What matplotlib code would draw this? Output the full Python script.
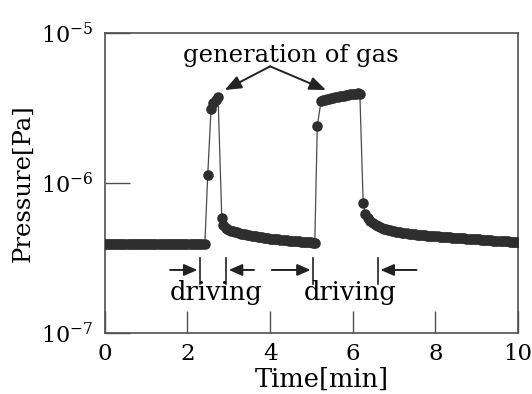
import matplotlib
matplotlib.use("Agg")
import matplotlib.pyplot as plt
from matplotlib.ticker import NullLocator

plt.rcParams['font.family'] = ['DejaVu Serif']
plt.rcParams['mathtext.fontset'] = 'dejavuserif'

# Chamber pressure (in units of 1e-7 Pa) recorded while the actuator is driven twice.
# Segment 1: quiet baseline before the first drive
base_t = [0.00, 0.05, 0.10, 0.15, 0.20, 0.25, 0.30, 0.35, 0.40, 0.45,
          0.50, 0.55, 0.60, 0.65, 0.70, 0.75, 0.80, 0.85, 0.90, 0.95,
          1.00, 1.05, 1.10, 1.15, 1.20, 1.25, 1.30, 1.35, 1.40, 1.45,
          1.50, 1.55, 1.60, 1.65, 1.70, 1.75, 1.80, 1.85, 1.90, 1.95,
          2.00, 2.05, 2.10, 2.15, 2.20, 2.25, 2.30, 2.35, 2.42]
base_p = [3.9, 3.9, 3.9, 3.9, 3.9, 3.9, 3.9, 3.9, 3.9, 3.9,
          3.9, 3.9, 3.9, 3.9, 3.9, 3.9, 3.9, 3.9, 3.9, 3.9,
          3.9, 3.9, 3.9, 3.9, 3.9, 3.9, 3.9, 3.9, 3.9, 3.9,
          3.9, 3.9, 3.9, 3.9, 3.9, 3.9, 3.9, 3.9, 3.9, 3.9,
          3.9, 3.9, 3.9, 3.9, 3.9, 3.9, 3.9, 3.9, 3.9]

# Segment 2: first gas burst
burst1_t = [2.49, 2.57, 2.62, 2.68, 2.74]
burst1_p = [11.3, 31.0, 34.0, 36.0, 37.5]

# Segment 3: recovery after the first burst
decay1_t = [2.83, 2.86, 2.92, 2.96, 3.00, 3.05, 3.10, 3.15, 3.20, 3.25,
            3.30, 3.35, 3.40, 3.45, 3.50, 3.55, 3.60, 3.65, 3.70, 3.75,
            3.80, 3.85, 3.90, 3.95, 4.00, 4.05, 4.10, 4.15, 4.20, 4.25,
            4.30, 4.35, 4.40, 4.45, 4.50, 4.55, 4.60, 4.65, 4.70, 4.75,
            4.80, 4.85, 4.90, 4.95, 5.00, 5.04, 5.08]
decay1_p = [5.85, 5.25, 5.00, 4.94, 4.88, 4.82, 4.77, 4.72, 4.68, 4.64,
            4.60, 4.57, 4.54, 4.51, 4.48, 4.45, 4.43, 4.40, 4.38, 4.36,
            4.34, 4.32, 4.30, 4.28, 4.26, 4.24, 4.23, 4.21, 4.20, 4.18,
            4.17, 4.16, 4.15, 4.13, 4.12, 4.11, 4.10, 4.09, 4.08, 4.07,
            4.06, 4.05, 4.04, 4.03, 4.02, 4.01, 4.00]

# Segment 4: second gas burst (plateau)
burst2_t = [5.14, 5.23, 5.28, 5.33, 5.38, 5.43, 5.48, 5.53, 5.58, 5.63,
            5.68, 5.73, 5.78, 5.83, 5.88, 5.93, 5.98, 6.03, 6.08, 6.13, 6.17]
burst2_p = [24.0, 35.0, 35.6, 36.0, 36.3, 36.6, 36.8, 37.0, 37.3, 37.5,
            37.8, 38.0, 38.3, 38.5, 38.8, 39.0, 39.2, 39.3, 39.5, 39.6, 39.5]

# Segment 5: recovery after the second burst
decay2_t = [6.25, 6.30, 6.36, 6.42, 6.50, 6.55, 6.60, 6.65, 6.70, 6.75,
            6.80, 6.85, 6.90, 6.95, 7.00, 7.05, 7.10, 7.15, 7.20, 7.25,
            7.30, 7.35, 7.40, 7.45, 7.50, 7.55, 7.60, 7.65, 7.70, 7.75,
            7.80, 7.85, 7.90, 7.95, 8.00, 8.05, 8.10, 8.15, 8.20, 8.25,
            8.30, 8.35, 8.40, 8.45, 8.50, 8.55, 8.60, 8.65, 8.70, 8.75,
            8.80, 8.85, 8.90, 8.95, 9.00, 9.05, 9.10, 9.15, 9.20, 9.25,
            9.30, 9.35, 9.40, 9.45, 9.50, 9.55, 9.60, 9.65, 9.70, 9.75,
            9.80, 9.85, 9.90, 9.95, 10.00]
decay2_p = [7.40, 6.20, 5.80, 5.55, 5.40, 5.28, 5.18, 5.10, 5.03, 4.97,
            4.92, 4.88, 4.84, 4.80, 4.77, 4.74, 4.71, 4.68, 4.66, 4.64,
            4.62, 4.60, 4.58, 4.56, 4.54, 4.53, 4.51, 4.50, 4.48, 4.47,
            4.45, 4.44, 4.43, 4.42, 4.41, 4.40, 4.39, 4.38, 4.37, 4.36,
            4.35, 4.34, 4.33, 4.32, 4.31, 4.30, 4.29, 4.28, 4.27, 4.26,
            4.25, 4.24, 4.23, 4.22, 4.21, 4.20, 4.19, 4.18, 4.17, 4.16,
            4.15, 4.14, 4.13, 4.12, 4.11, 4.10, 4.10, 4.09, 4.08, 4.08,
            4.07, 4.07, 4.06, 4.06, 4.05]

x_ticks = [0, 2, 4, 6, 8, 10]
y_ticks = [1e-7, 1e-6, 1e-5]
y_tick_labels = [r'$10^{-7}$', r'$10^{-6}$', r'$10^{-5}$']

# driving intervals (start, end) in minutes
drive_1 = (2.30, 2.94)
drive_2 = (5.04, 6.61)

time_min = base_t + burst1_t + decay1_t + burst2_t + decay2_t
pressure_pa = [v * 1e-7 for v in base_p + burst1_p + decay1_p + burst2_p + decay2_p]

fig = plt.figure(figsize=(5.32, 3.94), dpi=100)
ax = fig.add_axes([0.197, 0.155, 0.777, 0.761])

ink = '#2e2e2e'
ax.plot(time_min, pressure_pa, '-', color='#4a4a4a', lw=0.9,
        marker='o', ms=7.6, mfc=ink, mec=ink, mew=0, zorder=3)

ax.set_yscale('log')
ax.set_xlim(0, 10)
ax.set_ylim(1e-7, 1e-5)
ax.set_xticks(x_ticks)
ax.set_xticklabels([str(v) for v in x_ticks])
ax.set_yticks(y_ticks)
ax.set_yticklabels(y_tick_labels)
ax.yaxis.set_minor_locator(NullLocator())

spine_c = '#505050'
for s in ax.spines.values():
    s.set_color(spine_c)
    s.set_linewidth(1.2)
ax.tick_params(axis='x', direction='in', length=16, width=1.0, color=spine_c,
               labelsize=16.5, pad=7)
ax.tick_params(axis='y', direction='in', length=18, width=1.0, color=spine_c,
               labelsize=16, pad=8)

ax.set_xlabel('Time[min]', fontsize=18.5)
ax.xaxis.set_label_coords(0.525, -0.112)
ax.set_ylabel('Pressure[Pa]', fontsize=17.5, labelpad=5)

# gas generation callout
ax.text(4.5, 7.1e-6, 'generation of gas', fontsize=17.5, ha='center', va='center')
for tip in [(2.9, 4.17e-6), (5.35, 4.17e-6)]:
    ax.annotate('', xy=tip, xytext=(4.0, 6.0e-6),
                arrowprops=dict(arrowstyle='-|>,head_length=1.0,head_width=0.4',
                                color='#222222', lw=1.4, shrinkA=0, shrinkB=0))

# driving interval markers
trans = ax.get_xaxis_transform()
arrow_kw = dict(arrowstyle='-|>,head_length=0.8,head_width=0.35',
                color='#222222', lw=1.4, shrinkA=0, shrinkB=0)
for (t0, t1), lead, label_x in [(drive_1, 0.72, 2.69), (drive_2, 1.0, 5.93)]:
    for t in (t0, t1):
        ax.plot([t, t], [0.163, 0.25], color='#222222', lw=1.2, transform=trans)
    ax.annotate('', xy=(t0 - 0.06, 0.21), xytext=(t0 - lead, 0.21),
                xycoords=trans, textcoords=trans, arrowprops=arrow_kw)
    ax.annotate('', xy=(t1 + 0.06, 0.21), xytext=(t1 + lead * 0.93, 0.21),
                xycoords=trans, textcoords=trans, arrowprops=arrow_kw)
    ax.text(label_x, 0.11, 'driving', transform=trans, fontsize=18.5,
            ha='center', va='baseline')

fig.savefig('out.png', dpi=100)
